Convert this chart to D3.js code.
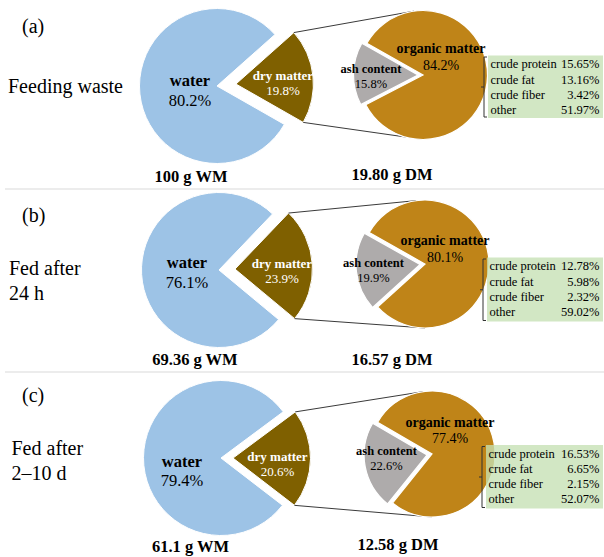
<!DOCTYPE html>
<html>
<head>
<meta charset="utf-8">
<script src="https://cdn.jsdelivr.net/npm/d3@7"></script>
<style>
  html, body { margin: 0; padding: 0; background: #fff; }
  svg { display: block; font-family: "Liberation Serif", "Times New Roman", serif; }
</style>
</head>
<body>
<svg id="chart" width="604" height="557"></svg>
<script>
// ---- data ----
const panelTags = ["(a)", "(b)", "(c)"];
const sampleNames = [["Feeding waste"], ["Fed after", "24 h"], ["Fed after", "2–10 d"]];
const waterPct = [80.2, 76.1, 79.4];
const dryPct = [19.8, 23.9, 20.6];
const organicPct = [84.2, 80.1, 77.4];
const ashPct = [15.8, 19.9, 22.6];
const wetMassLabels = ["100 g WM", "69.36 g WM", "61.1 g WM"];
const dryMassLabels = ["19.80 g DM", "16.57 g DM", "12.58 g DM"];
const componentNames = ["crude protein", "crude fat", "crude fiber", "other"];
const proteinPct = [15.65, 12.78, 16.53];
const fatPct = [13.16, 5.98, 6.65];
const fiberPct = [3.42, 2.32, 2.15];
const otherPct = [51.97, 59.02, 52.07];

// ---- layout ----
const colors = { water: "#9dc3e6", dry: "#7f6000", organic: "#bf8418", ash: "#aeabab", box: "#c5e0b4" };
const layout = [
  { tag: [22, 33], name: [8, 93.3],
    water: { cx: 217, cy: 86, r: 77.5, dryStart: 48.4, off: 19 },
    org: { cx: 423, cy: 75, r: 64.5, ashMid: 271, off: 5 },
    waterLbl: [190, 86], dryLbl: [283, 80], orgLbl: [441, 53], ashLbl: [371, 72.7],
    wm: [191, 181.7], dm: [392, 180], box: { x: 488, y: 55.5, w: 115, h: 62.5 } },
  { tag: [22, 222], name: [9, 275],
    water: { cx: 219, cy: 270, r: 77.5, dryStart: 43.7, off: 16 },
    org: { cx: 425, cy: 264, r: 64, ashMid: 263.6, off: 5 },
    waterLbl: [187, 268.3], dryLbl: [282, 268.3], orgLbl: [445, 245], ashLbl: [373.5, 266.7],
    wm: [195, 365], dm: [392, 365], box: { x: 487, y: 257.5, w: 116, h: 64 } },
  { tag: [22, 402], name: [11.5, 455],
    water: { cx: 221, cy: 458, r: 77.5, dryStart: 53.4, off: 12 },
    org: { cx: 432, cy: 454, r: 63, ashMid: 259.5, off: 5 },
    waterLbl: [182, 466.7], dryLbl: [277.5, 461], orgLbl: [450, 426.7], ashLbl: [386.5, 455],
    wm: [190.5, 552], dm: [398, 550], box: { x: 486, y: 445, w: 117, h: 63.5 } }
];
const separators = [189, 372];

const svg = d3.select("#chart");
const rad = d => d * Math.PI / 180;
const fmt1 = d3.format(".1f");
const fmt2 = d3.format(".2f");

// separators between the three stages
svg.selectAll("line.sep").data(separators).join("line")
  .attr("x1", 5).attr("x2", 604).attr("y1", d => d).attr("y2", d => d)
  .attr("stroke", "#d9d9d9").attr("stroke-width", 1);

layout.forEach((L, i) => {
  const g = svg.append("g");

  // stage tag and name
  g.append("text").attr("x", L.tag[0]).attr("y", L.tag[1])
    .attr("font-size", 20).attr("fill", "#000").text(panelTags[i]);
  sampleNames[i].forEach((line, k) => {
    g.append("text").attr("x", L.name[0]).attr("y", L.name[1] + k * 24.5)
      .attr("font-size", 20).attr("fill", "#000").text(line);
  });

  // ---- wet-matter pie: dry matter slice pulled out ----
  const W = L.water;
  const wetData = [
    { key: "dry", value: dryPct[i] },
    { key: "water", value: waterPct[i] }
  ];
  const wetPie = d3.pie().sort(null).value(d => d.value)
    .startAngle(rad(W.dryStart)).endAngle(rad(W.dryStart) + 2 * Math.PI);
  const wetArcs = wetPie(wetData);
  const wetArc = d3.arc().innerRadius(0).outerRadius(W.r);

  const explode = (a, off) => {
    if (!off) return [0, 0];
    const m = (a.startAngle + a.endAngle) / 2;
    return [off * Math.sin(m), -off * Math.cos(m)];
  };

  const wetG = g.append("g").attr("transform", `translate(${W.cx},${W.cy})`);
  wetG.selectAll("path").data(wetArcs).join("path")
    .attr("d", wetArc)
    .attr("transform", d => {
      const [dx, dy] = explode(d, d.data.key === "dry" ? W.off : 0);
      return `translate(${dx},${dy})`;
    })
    .attr("fill", d => colors[d.data.key])
    .attr("stroke", "#fff").attr("stroke-width", 1);

  // ---- dry-matter pie: ash slice pulled out ----
  const O = L.org;
  const ashSpan = ashPct[i] / 100 * 360;
  const dmData = [
    { key: "ash", value: ashPct[i] },
    { key: "organic", value: organicPct[i] }
  ];
  const dmStart = rad(O.ashMid - ashSpan / 2);
  const dmPie = d3.pie().sort(null).value(d => d.value)
    .startAngle(dmStart).endAngle(dmStart + 2 * Math.PI);
  const dmArcs = dmPie(dmData);
  const dmArc = d3.arc().innerRadius(0).outerRadius(O.r);

  // connector lines from the pulled-out dry slice to the second pie
  const dryArc = wetArcs.find(a => a.data.key === "dry");
  const [ddx, ddy] = explode(dryArc, W.off);
  const corner = ang => [W.cx + ddx + W.r * Math.sin(ang), W.cy + ddy - W.r * Math.cos(ang)];
  const onOrg = ang => [O.cx + O.r * Math.sin(ang), O.cy - O.r * Math.cos(ang)];
  const links = [
    [corner(dryArc.startAngle), onOrg(rad(-8))],
    [corner(dryArc.endAngle), onOrg(rad(180))]
  ];
  g.selectAll("line.link").data(links).join("line")
    .attr("x1", d => d[0][0]).attr("y1", d => d[0][1])
    .attr("x2", d => d[1][0]).attr("y2", d => d[1][1])
    .attr("stroke", "#3a3a3a").attr("stroke-width", 1);

  const dmG = g.append("g").attr("transform", `translate(${O.cx},${O.cy})`);
  dmG.selectAll("path").data(dmArcs).join("path")
    .attr("d", dmArc)
    .attr("transform", d => {
      const [dx, dy] = explode(d, d.data.key === "ash" ? O.off : 0);
      return `translate(${dx},${dy})`;
    })
    .attr("fill", d => colors[d.data.key])
    .attr("stroke", "#fff").attr("stroke-width", 1.2);

  // ---- slice labels ----
  const label = (pos, title, pct, size, color, gap) => {
    g.append("text").attr("x", pos[0]).attr("y", pos[1]).attr("text-anchor", "middle")
      .attr("font-size", size).attr("font-weight", "bold").attr("fill", color).text(title);
    g.append("text").attr("x", pos[0]).attr("y", pos[1] + gap).attr("text-anchor", "middle")
      .attr("font-size", size).attr("fill", color).text(fmt1(pct) + "%");
  };
  label(L.waterLbl, "water", waterPct[i], 16.5, "#000", 19.5);
  label(L.dryLbl, "dry matter", dryPct[i], 13, "#fff", 15);
  label(L.orgLbl, "organic matter", organicPct[i], 14, "#000", 16.5);
  label(L.ashLbl, "ash content", ashPct[i], 12.5, "#000", 15);

  // mass captions
  g.append("text").attr("x", L.wm[0]).attr("y", L.wm[1]).attr("text-anchor", "middle")
    .attr("font-size", 16.5).attr("font-weight", "bold").attr("fill", "#000").text(wetMassLabels[i]);
  g.append("text").attr("x", L.dm[0]).attr("y", L.dm[1]).attr("text-anchor", "middle")
    .attr("font-size", 16.5).attr("font-weight", "bold").attr("fill", "#000").text(dryMassLabels[i]);

  // ---- organic-matter breakdown box ----
  const B = L.box;
  g.append("rect").attr("x", B.x).attr("y", B.y).attr("width", B.w).attr("height", B.h)
    .attr("fill", colors.box).attr("fill-opacity", 0.78);
  const vals = [proteinPct[i], fatPct[i], fiberPct[i], otherPct[i]];
  const rowY = d3.scalePoint().domain(componentNames).range([B.y + 12.8, B.y + 12.8 + 3 * 15.2]);
  componentNames.forEach((n, k) => {
    g.append("text").attr("x", B.x + 2.5).attr("y", rowY(n))
      .attr("font-size", 12.5).attr("fill", "#000").text(n);
    g.append("text").attr("x", B.x + B.w - 3.5).attr("y", rowY(n)).attr("text-anchor", "end")
      .attr("font-size", 12.5).attr("fill", "#000").text(fmt2(vals[k]) + "%");
  });

  // bracket joining the box to the organic slice
  const bx = B.x - 4, by0 = B.y + 1.5, by1 = B.y + B.h - 1, bm = (by0 + by1) / 2;
  g.append("path")
    .attr("d", `M${bx + 3},${by0}H${bx}V${by1}H${bx + 3}M${bx},${bm}H${bx - 3}`)
    .attr("fill", "none").attr("stroke", "#333").attr("stroke-width", 1);
});
</script>
</body>
</html>
